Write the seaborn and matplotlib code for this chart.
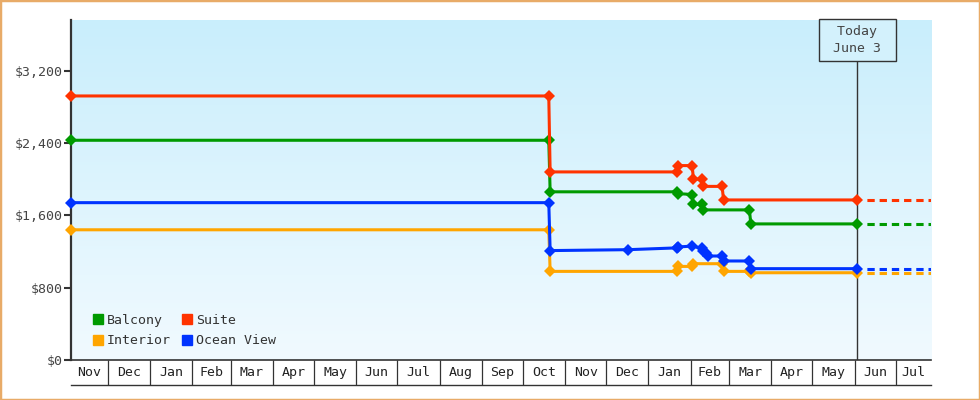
import numpy as np
import pandas as pd
import matplotlib
matplotlib.use("Agg")
import matplotlib.pyplot as plt
import matplotlib.dates as mdates
from matplotlib.colors import LinearSegmentedColormap
from matplotlib.lines import Line2D
from matplotlib.patches import Rectangle
from matplotlib.ticker import FixedLocator, FixedFormatter, NullFormatter, FuncFormatter
import seaborn as sns

plt.rcParams['font.family'] = ['DejaVu Sans Mono', 'DejaVu Sans']

# price observations per cabin type
balcony_dates = ['2016-11-04', '2017-10-20', '2017-10-21', '2018-01-22', '2018-01-23', '2018-02-02',
                 '2018-02-03', '2018-02-09', '2018-02-10', '2018-03-16', '2018-03-17', '2018-06-03']
balcony_prices = [2430, 2430, 1860, 1860, 1840, 1830, 1720, 1720, 1660, 1660, 1505, 1505]

suite_dates = ['2016-11-04', '2017-10-20', '2017-10-21', '2018-01-22', '2018-01-23', '2018-02-02',
               '2018-02-03', '2018-02-09', '2018-02-10', '2018-02-24', '2018-02-25', '2018-06-03']
suite_prices = [2920, 2920, 2080, 2080, 2150, 2150, 2000, 2000, 1920, 1920, 1770, 1770]

ocean_dates = ['2016-11-04', '2017-10-20', '2017-10-21', '2017-12-17', '2018-01-22', '2018-01-23',
               '2018-02-02', '2018-02-09', '2018-02-10', '2018-02-12', '2018-02-14', '2018-02-24',
               '2018-02-25', '2018-03-16', '2018-03-17', '2018-06-03']
ocean_prices = [1740, 1740, 1210, 1220, 1240, 1250, 1260, 1235, 1205, 1180, 1150, 1150,
                1095, 1095, 1010, 1010]

interior_dates = ['2016-11-04', '2017-10-20', '2017-10-21', '2018-01-22', '2018-01-23', '2018-02-02',
                  '2018-02-03', '2018-02-24', '2018-02-25', '2018-03-16', '2018-03-17', '2018-06-03']
interior_prices = [1440, 1440, 980, 980, 1035, 1035, 1065, 1065, 980, 980, 965, 965]

legend_order = ['Balcony', 'Interior', 'Suite', 'Ocean View']
draw_order = ['Interior', 'Balcony', 'Suite', 'Ocean View']
colors = {'Balcony': '#009a00', 'Suite': '#ff3300', 'Interior': '#ffa500', 'Ocean View': '#0033ff'}

y_ticks = [0, 800, 1600, 2400, 3200]
today = pd.Timestamp('2018-06-03')
x_start = pd.Timestamp('2016-11-04')
x_end = pd.Timestamp('2018-07-27')

frames = []
for name, d, p in [('Balcony', balcony_dates, balcony_prices),
                   ('Suite', suite_dates, suite_prices),
                   ('Ocean View', ocean_dates, ocean_prices),
                   ('Interior', interior_dates, interior_prices)]:
    frames.append(pd.DataFrame({'date': pd.to_datetime(d), 'price': p, 'cabin': name}))
df = pd.concat(frames, ignore_index=True)

fig = plt.figure(figsize=(9.8, 4.0), dpi=100)
ax = fig.add_axes([71 / 980, 40 / 400, 860 / 980, 340 / 400])

sns.lineplot(data=df, x='date', y='price', hue='cabin', hue_order=draw_order, palette=colors,
             marker='D', markersize=6.5, markeredgewidth=0, linewidth=2.2,
             estimator=None, sort=False, legend=False, ax=ax, zorder=3, clip_on=False)

# dotted projection after today
for name in draw_order:
    last = df[df.cabin == name].price.iloc[-1]
    ax.plot([today + pd.Timedelta(days=3.5), x_end], [last, last], color=colors[name], lw=2.2,
            linestyle=(2.4, (2.4, 1.6)), zorder=2.5)

ax.set_xlim(x_start, x_end)
ax.set_ylim(0, 3760)

# background gradient
grad = LinearSegmentedColormap.from_list('bg', ['#c9eefc', '#f1faff'])
ax.imshow(np.linspace(0, 1, 256)[:, None], aspect='auto', cmap=grad, extent=[0, 1, 0, 1],
          transform=ax.transAxes, zorder=0)
ax.set_xlim(x_start, x_end)
ax.set_ylim(0, 3760)

# today marker
ax.axvline(today, ymin=0, ymax=(340 - 40) / 340, color='#333333', lw=1, zorder=2)
ax.annotate(' Today \n June 3 ', xy=(mdates.date2num(today), 1), xycoords=('data', 'axes fraction'),
            xytext=(0, -20), textcoords='offset pixels', ha='center', va='center',
            multialignment='center', linespacing=1.3, fontsize=9.5, color='#444444',
            bbox=dict(boxstyle='square,pad=0.5', fc='#d3f1fc', ec='#333333', lw=1), zorder=5)

# y axis
ax.set_yticks(y_ticks)
ax.yaxis.set_major_formatter(FuncFormatter(lambda v, p: f'${v:,.0f}'))
ax.tick_params(axis='y', length=5, width=1.5, color='#333333', labelcolor='#444444',
               labelsize=9.5, pad=1)

# x axis: month boxes
ax.xaxis.set_major_locator(mdates.MonthLocator())
ax.xaxis.set_major_formatter(NullFormatter())
months = pd.date_range(x_start.to_period('M').to_timestamp(), x_end, freq='MS')
mids, labels = [], []
for m in months:
    a = max(m, x_start)
    b = min(m + pd.offsets.MonthBegin(1), x_end)
    mids.append(mdates.date2num(a + (b - a) / 2))
    labels.append(m.strftime('%b'))
ax.xaxis.set_minor_locator(FixedLocator(mids))
ax.xaxis.set_minor_formatter(FixedFormatter(labels))
ax.tick_params(axis='x', which='major', length=18, width=0.9, color='#333333')
ax.tick_params(axis='x', which='minor', length=0, pad=4, labelsize=9.5, labelcolor='#222222')
ax.plot([0, 1], [-25 / 340, -25 / 340], transform=ax.transAxes, clip_on=False,
        color='#333333', lw=1)

ax.set_xlabel('')
ax.set_ylabel('')
for s in ['top', 'right']:
    ax.spines[s].set_visible(False)
ax.spines['left'].set_linewidth(1.6)
ax.spines['left'].set_color('#333333')
ax.spines['bottom'].set_linewidth(1.2)
ax.spines['bottom'].set_color('#333333')

handles = [Line2D([], [], marker='s', linestyle='', markersize=7.5, color=colors[n]) for n in legend_order]
ax.legend(handles, legend_order, loc='lower left', bbox_to_anchor=(0.015, 0.014), ncol=2,
          frameon=False, fontsize=9.5, handletextpad=0.15, columnspacing=0.75,
          labelspacing=0.55, handlelength=1.0, borderaxespad=0.2, labelcolor='#333333')

fig.patches.append(Rectangle((0, 0), 1, 1, transform=fig.transFigure, fill=False,
                             ec='#e8ab68', lw=2.5))

fig.savefig('out.png', dpi=100)
